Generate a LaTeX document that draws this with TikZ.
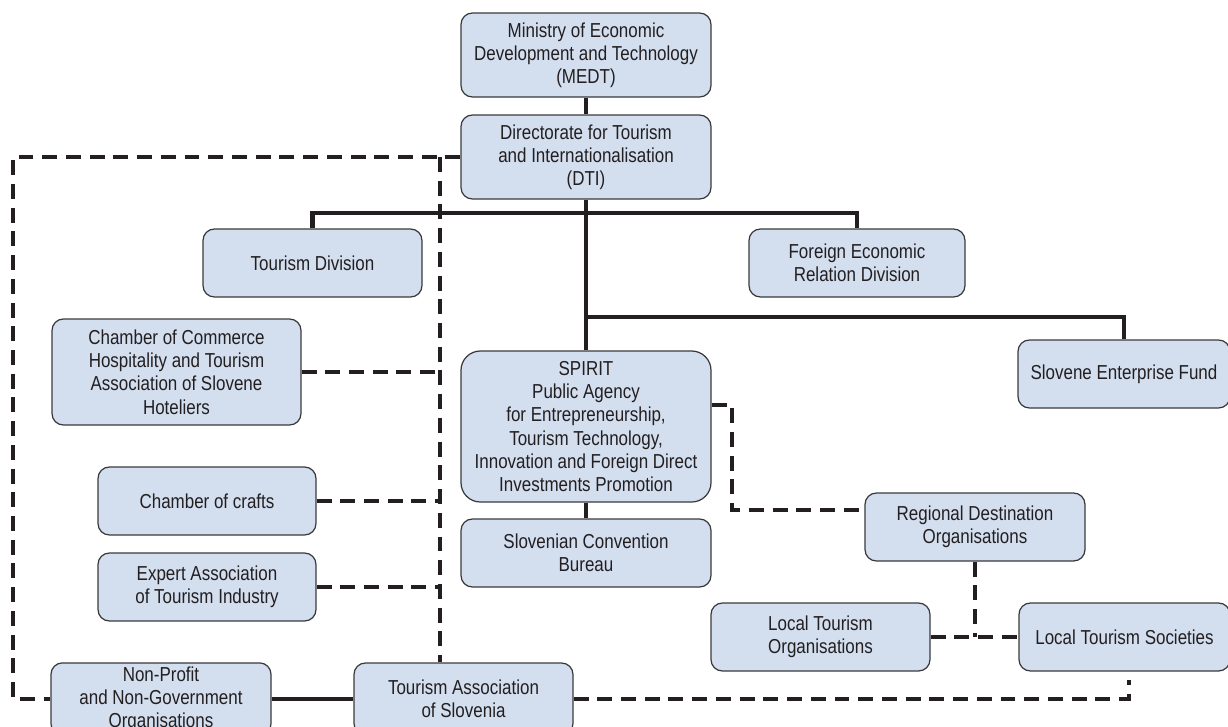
\documentclass[tikz,border=0pt]{standalone}
\usepackage{fontspec}
\setmainfont{Liberation Sans}[FakeStretch=0.84]
\usetikzlibrary{positioning, calc}

\definecolor{boxfill}{HTML}{D3DEEF}
\definecolor{boxline}{HTML}{3A3A3C}
\definecolor{linkcolor}{HTML}{231F20}
\definecolor{textcolor}{HTML}{231F20}

\def\px{0.02cm}   % one pixel of the 1228 x 727 layout

\begin{document}
\begin{tikzpicture}[
    x=\px, y=-\px,
    every node/.style={font=\fontsize{11.5}{13.2}\selectfont, text=textcolor},
    orgbox/.style={draw=boxline, line width=0.7pt, fill=boxfill,
                   rounded corners=6.5pt, align=center, inner sep=2pt},
    solidlink/.style={draw=linkcolor, line width=2.7pt},
    dashlink/.style={draw=linkcolor, line width=2.7pt,
                     dash pattern=on 8.5pt off 5pt},
]

\useasboundingbox (0,0) rectangle (1228,727);

% ================================================================
% Layout in pixels, y running downwards.
%   column of the ministry     x = 586  (trunk)
%   left dashed spine          x = 440
%   outer dashed frame         x = 13, y = 157 .. 698
% ================================================================

% ---------------------------------------------------------------- boxes
\node[orgbox, minimum width=250*\px, minimum height=84*\px] (medt) at (586,55)
    {Ministry of Economic\\Development and Technology\\(MEDT)};
\node[orgbox, minimum width=250*\px, minimum height=84*\px] (dti) at (586,157)
    {Directorate for Tourism\\and Internationalisation\\(DTI)};

\node[orgbox, minimum width=219*\px, minimum height=68*\px] (tdiv) at (312.5,263)
    {Tourism Division};
\node[orgbox, minimum width=216*\px, minimum height=68*\px] (ferd) at (857,263)
    {Foreign Economic\\Relation Division};
\node[orgbox, minimum width=212*\px, minimum height=68*\px] (sef) at (1124,374)
    {Slovene Enterprise Fund};

\node[orgbox, rounded corners=11pt, minimum width=250*\px, minimum height=151*\px]
    (spirit) at (586,426.5)
    {SPIRIT\\Public Agency\\for Entrepreneurship,\\Tourism Technology,\\
     Innovation and Foreign Direct\\Investments Promotion};
\node[orgbox, minimum width=250*\px, minimum height=68*\px] (scb) at (586,553)
    {Slovenian Convention\\Bureau};

\node[orgbox, minimum width=249*\px, minimum height=106*\px] (ccom) at (176.5,372)
    {Chamber of Commerce\\Hospitality and Tourism\\Association of Slovene\\Hoteliers};
\node[orgbox, minimum width=218*\px, minimum height=68*\px] (ccraft) at (207,501)
    {Chamber of crafts};
\node[orgbox, minimum width=218*\px, minimum height=68*\px] (expert) at (207,587)
    {Expert Association\\of Tourism Industry};

\node[orgbox, minimum width=220*\px, minimum height=72*\px] (npo) at (161,699)
    {Non-Profit\\and Non-Government\\Organisations};
\node[orgbox, minimum width=219*\px, minimum height=72*\px] (tas) at (463.5,699)
    {Tourism Association\\of Slovenia};

\node[orgbox, minimum width=220*\px, minimum height=68*\px] (rdo) at (975,527)
    {Regional Destination\\Organisations};
\node[orgbox, minimum width=219*\px, minimum height=68*\px] (lto) at (820.5,637)
    {Local Tourism\\Organisations};
\node[orgbox, minimum width=211*\px, minimum height=68*\px] (lts) at (1124.5,637)
    {Local Tourism Societies};

% ---------------------------------------------------------------- junctions
\coordinate (bus1) at (586,213);
\coordinate (bus2) at (586,317);
\coordinate (frameTL) at (13,157);
\coordinate (spineTop) at (440,157);
\coordinate (sbendA) at (732,405);
\coordinate (sbendB) at (732,510);
\coordinate (bottomR) at (1129,699);

% ---------------------------------------------------------------- solid lines
\draw[solidlink] (medt.south) -- (dti.north);
\draw[solidlink] (dti.south) -- (spirit.north);
\draw[solidlink] (tdiv.north) |- (bus1) -| (ferd.north);
\draw[solidlink] (bus2) -| (sef.north);
\draw[solidlink] (spirit.south) -- (scb.north);
\draw[solidlink] (npo.east) -- (tas.west);

% ---------------------------------------------------------------- dashed lines
\draw[dashlink] (dti.west) -- (frameTL) |- (npo.west);
\draw[dashlink] (spineTop) -- (spineTop |- tas.north);
\draw[dashlink] (ccom.east) -- (ccom.east -| spineTop);
\draw[dashlink] (ccraft.east) -- (ccraft.east -| spineTop);
\draw[dashlink] (expert.east) -- (expert.east -| spineTop);

\draw[dashlink] (sbendA -| spirit.east) -- (sbendA) -- (sbendB) -- (sbendB -| rdo.west);
\draw[dashlink] (rdo.south) -- (rdo.south |- lto.east);
\draw[dashlink] (lto.east) -- (lts.west);
\draw[dashlink] (tas.east) -- (bottomR) -- ++(0,-19);

\end{tikzpicture}
\end{document}
